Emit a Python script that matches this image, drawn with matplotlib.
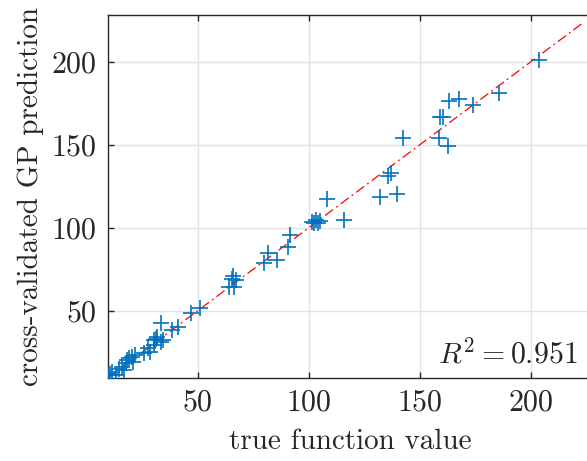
import matplotlib
matplotlib.use("Agg")
import matplotlib.pyplot as plt
import numpy as np

plt.rcParams["font.family"] = "serif"
plt.rcParams["font.serif"] = ["cmr10"]
plt.rcParams["mathtext.fontset"] = "cm"
plt.rcParams["axes.formatter.use_mathtext"] = True

# true value vs. cross-validated prediction for each held-out point
true_vals = [
    9.5, 10.5, 11.6, 13.2, 14.5, 15.8, 16.6, 17.5, 18.2, 19.2, 20.3, 20.8, 21.7,
    26.0, 27.6, 28.4, 30.1, 30.1, 31.0, 31.8, 33.5, 34.2, 33.5, 38.5, 41.0,
    46.9, 51.2,
    64.0, 65.3, 66.0, 66.5, 67.0,
    79.8, 81.5, 85.7, 90.8, 91.5,
    101.5, 102.5, 103.0, 104.0, 105.0, 108.1, 115.8,
    132.0, 135.8, 136.9, 139.8, 142.2,
    158.7, 162.8, 159.0, 160.3, 163.2, 167.7, 174.0, 185.6, 203.6,
]
cv_pred = [
    11.3, 12.0, 13.3, 11.3, 15.0, 16.3, 14.3, 18.3, 20.5, 21.3, 22.3, 19.3, 23.3,
    24.5, 27.3, 25.3, 29.3, 32.3, 33.0, 34.3, 31.3, 32.3, 42.4, 38.4, 40.4,
    48.4, 51.4,
    64.0, 68.9, 71.0, 64.5, 68.5,
    78.5, 84.6, 80.5, 88.6, 95.6,
    103.5, 103.0, 104.5, 102.5, 104.0, 117.1, 104.6,
    118.7, 131.1, 133.1, 120.1, 153.9,
    153.9, 149.2, 166.5, 166.5, 176.3, 177.7, 173.9, 181.3, 201.0,
]
r_squared = 0.951

x_lim = (9.5, 228.0)
y_lim = (9.6, 228.1)
diag = [9.5, 223.0]

fig = plt.figure(figsize=(5.87, 4.61), dpi=100)
ax = fig.add_axes([0.1837, 0.1807, 0.827, 0.7868])

ax.plot(diag, diag, color="#FF0000", lw=0.9, linestyle=(0, (8, 3, 1.5, 3)), zorder=2)
ax.plot(true_vals, cv_pred, linestyle="none", marker="+", markersize=11,
        markeredgewidth=1.2, color="#0072BD", zorder=3)

ax.set_xlim(*x_lim)
ax.set_ylim(*y_lim)
ax.set_xticks([50, 100, 150, 200])
ax.set_yticks([50, 100, 150, 200])

ax.grid(True, color="#E3E3E3", linewidth=1.0)
ax.set_axisbelow(True)
for side in ("left", "bottom", "top"):
    ax.spines[side].set_color("#262626")
    ax.spines[side].set_linewidth(1.0)
ax.spines["right"].set_visible(False)
ax.tick_params(direction="in", length=4, width=1.0, color="#262626",
               labelsize=21.5, labelcolor="#262626", pad=8, top=True)

ax.set_xlabel("true function value", fontsize=21, color="#262626", labelpad=9)
ax.set_ylabel("cross-validated GP prediction", fontsize=21, color="#262626", labelpad=5)

ax.text(0.9685, 0.04, rf"$R^2 = {r_squared}$",
        transform=ax.transAxes, ha="right", va="baseline",
        fontsize=21.5, color="#262626")

fig.savefig("out.png", dpi=100)
